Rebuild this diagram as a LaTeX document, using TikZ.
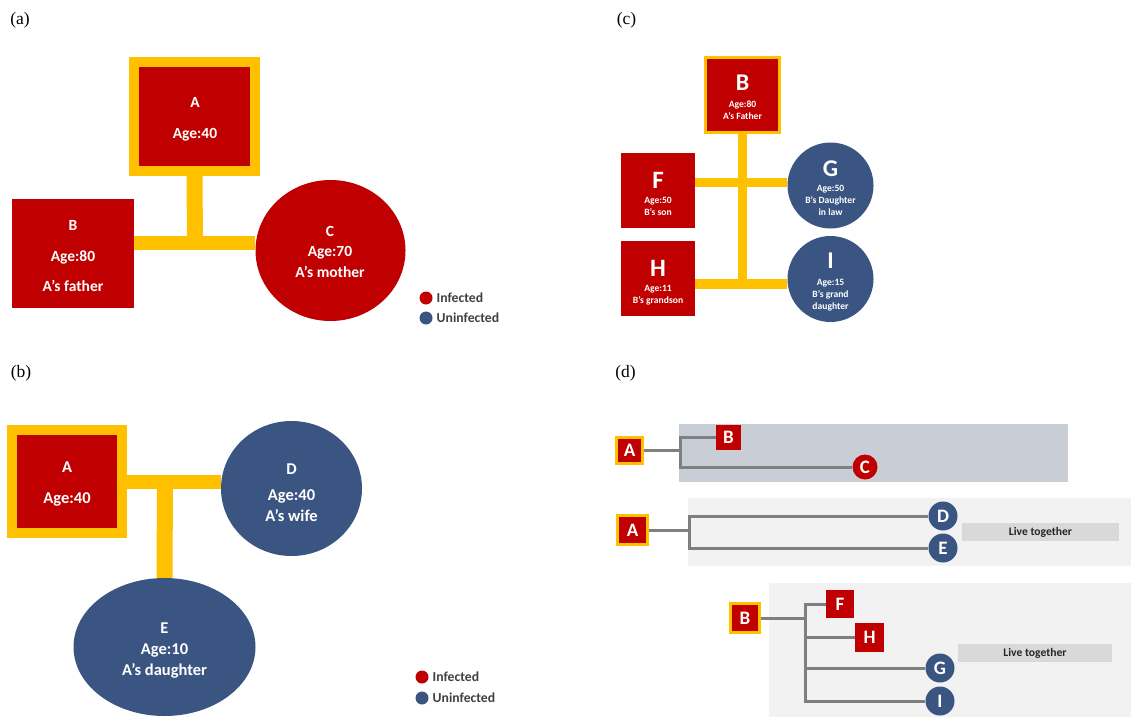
\documentclass[tikz,border=0pt]{standalone}
\usepackage{fontspec}
\setmainfont{Carlito}
\newfontfamily\tnr{Liberation Serif}
\usetikzlibrary{shapes.geometric}
\definecolor{myred}{HTML}{C00000}
\definecolor{myyel}{HTML}{FFC000}
\definecolor{myblue}{HTML}{3B5583}
\definecolor{panelgray}{HTML}{F2F2F2}
\definecolor{panelblue}{HTML}{C9CED6}
\definecolor{tagray}{HTML}{D9D9D9}
\definecolor{linegray}{HTML}{7F7F7F}
\definecolor{legtxt}{HTML}{404040}
\begin{document}
\begin{tikzpicture}[x=1pt,y=-1pt,
  redbox/.style={rectangle, fill=myred, draw=none, inner sep=0pt, text=white},
  bluell/.style={ellipse, fill=myblue, draw=none, inner sep=0pt, text=white},
  redell/.style={ellipse, fill=myred, draw=none, inner sep=0pt, text=white},
  bluecirc/.style={circle, fill=myblue, draw=none, inner sep=0pt, text=white},
  redcirc/.style={circle, fill=myred, draw=none, inner sep=0pt, text=white},
  ybar/.style={draw=myyel, line cap=butt},
  gline/.style={draw=linegray, line width=3pt},
  lblA/.style={text=white, align=center, inner sep=0pt, font=\bfseries\fontsize{15.5}{31}\selectfont},
  lblB/.style={text=white, align=center, inner sep=0pt, font=\bfseries\fontsize{16.5}{21}\selectfont},
  lblC/.style={text=white, align=center, inner sep=0pt, font=\bfseries\fontsize{9.6}{12}\selectfont},
  dletter/.style={font=\bfseries\fontsize{19}{19}\selectfont},
  plab/.style={inner sep=0pt, font=\tnr\fontsize{17.5}{17.5}\selectfont},
  legdot/.style={circle, inner sep=0pt, minimum size=13pt},
  legtext/.style={anchor=west, inner sep=0pt, text=legtxt, font=\bfseries\fontsize{13.7}{13.7}\selectfont},
  livebox/.style={rectangle, fill=tagray, inner sep=0pt, text=black!85, font=\bfseries\fontsize{11.6}{11.6}\selectfont}
]
\useasboundingbox (0,0) rectangle (1131,717);

% ---------- panel labels
\node[plab] (la) at (20,20.5) {(a)};
\node[plab] (lb) at (21,373) {(b)};
\node[plab] (lc) at (626.5,20.5) {(c)};
\node[plab] (ld) at (625.5,373) {(d)};

% ---------- (a)
\node[redbox, draw=myyel, line width=10pt, minimum width=121pt, minimum height=109pt] (Aa) at (194.5,116.5) {};
\node[redbox, minimum width=122pt, minimum height=109pt] (Ba) at (73,253.5) {};
\node[redell, minimum width=150pt, minimum height=141pt] (Ca) at (330.5,250.5) {};
\coordinate (ja) at (195,243);
\draw[ybar, line width=14pt] (Ba.east |- ja) -- (Ca.west |- ja);
\draw[ybar, line width=16pt] (Aa.south) -- (ja);
\node[lblA] (Aat) at (195,119) {A\\Age:40};
\node[lblA, font=\bfseries\fontsize{15.5}{30.5}\selectfont] (Bat) at (73,256.5) {B\\Age:80\\A’s father};
\node[lblA, font=\bfseries\fontsize{15.5}{20.5}\selectfont] (Cat) at (330,251.5) {C\\Age:70\\A’s mother};
\node[legdot, fill=myred] (lra) at (426,298) {};
\node[legtext] (lrat) at (436.5,298) {Infected};
\node[legdot, fill=myblue] (lba) at (426,318) {};
\node[legtext] (lbat) at (436.5,318) {Uninfected};

% ---------- (b)
\node[redbox, draw=myyel, line width=10pt, minimum width=110pt, minimum height=103pt] (Ab) at (67,481.5) {};
\node[bluell, minimum width=141pt, minimum height=135pt] (Db) at (291.5,488.5) {};
\node[bluell, minimum width=182pt, minimum height=138pt] (Eb) at (164.5,647) {};
\coordinate (jb) at (165,482);
\draw[ybar, line width=14pt] (Ab.east |- jb) -- (Db.west |- jb);
\draw[ybar, line width=16pt] (jb) -- (Eb.north);
\node[lblB, font=\bfseries\fontsize{16.5}{31}\selectfont] (Abt) at (67,484) {A\\Age:40};
\node[lblB] (Dbt) at (291.5,493) {D\\[5pt]Age:40\\A’s wife};
\node[lblB] (Ebt) at (164.5,651) {E\\Age:10\\A’s daughter};
\node[legdot, fill=myred] (lrb) at (422,677) {};
\node[legtext] (lrbt) at (432.5,677) {Infected};
\node[legdot, fill=myblue] (lbb) at (422,698) {};
\node[legtext] (lbbt) at (432.5,698) {Uninfected};

% ---------- (c)
\node[redbox, draw=myyel, line width=3pt, minimum width=74pt, minimum height=75pt] (Bc) at (742.5,95) {};
\node[redbox, minimum width=74pt, minimum height=75pt] (Fc) at (658,190.5) {};
\node[redbox, minimum width=74pt, minimum height=75pt] (Hc) at (658,278.5) {};
\node[bluecirc, minimum size=86pt] (Gc) at (830.5,185.5) {};
\node[bluecirc, minimum size=86pt] (Ic) at (830.5,279) {};
\coordinate (cF) at (742.5,182.5);
\coordinate (cH) at (742.5,284);
\draw[ybar, line width=9pt] (Fc.east |- cF) -- (Gc.west |- cF);
\draw[ybar, line width=10pt] (Hc.east |- cH) -- (Ic.west |- cH);
\draw[ybar, line width=9pt] (Bc.south) -- (cH);
\node[lblC] (Bct) at (742.5,97.5) {{\fontsize{24}{24}\selectfont B}\\[4.5pt]Age:80\\A’s Father};
\node[lblC] (Fct) at (658,194) {{\fontsize{25}{25}\selectfont F}\\[3.5pt]Age:50\\B’s son};
\node[lblC] (Hct) at (658,282.5) {{\fontsize{25}{25}\selectfont H}\\[3.5pt]Age:11\\B’s grandson};
\node[lblC] (Gct) at (830.5,188) {{\fontsize{24}{24}\selectfont G}\\[3.5pt]Age:50\\B’s Daughter\\in law};
\node[lblC] (Ict) at (830.5,282) {{\fontsize{24}{24}\selectfont I}\\[4.5pt]Age:15\\B’s grand\\daughter};

% ---------- (d)
\fill[panelblue] (679,424) rectangle (1068,482);
\fill[panelgray] (688,498) rectangle (1131,566);
\fill[panelgray] (769,583) rectangle (1131,717);
\node[livebox, minimum width=157pt, minimum height=18pt] (L1) at (1040.5,532) {Live together};
\node[livebox, minimum width=154pt, minimum height=18pt] (L2) at (1035,653) {Live together};

\node[redbox, dletter, draw=myyel, line width=3pt, minimum size=26pt] (A1) at (629.5,450.5) {A};
\node[redbox, dletter, minimum size=25pt] (B1) at (728.5,437.5) {B};
\node[redcirc, dletter, minimum size=25pt] (C1) at (865,467) {C};
\coordinate (j1) at (680,450.5);
\draw[gline] (A1) -- (j1);
\draw[gline] (B1) -| (j1) |- (C1);

\node[redbox, dletter, draw=myyel, line width=3pt, minimum width=30pt, minimum height=29pt] (A2) at (632.5,530) {A};
\node[bluecirc, dletter, minimum size=29pt] (D2) at (943,516) {D};
\node[bluecirc, dletter, minimum size=29pt] (E2) at (943,548) {E};
\coordinate (j2) at (689,530);
\draw[gline] (A2) -- (j2);
\draw[gline] (D2) -| (j2) |- (E2);

\node[redbox, dletter, draw=myyel, line width=3pt, minimum size=29pt] (B3) at (745,618) {B};
\node[redbox, dletter, minimum size=28pt] (F3) at (840,604) {F};
\node[redbox, dletter, minimum size=29pt] (H3) at (869.5,637.5) {H};
\node[bluecirc, dletter, minimum size=29pt] (G3) at (940,668) {G};
\node[bluecirc, dletter, minimum size=29pt] (I3) at (940,701) {I};
\coordinate (j3) at (805,618);
\draw[gline] (B3) -- (j3);
\draw[gline] (F3) -| (j3) |- (I3);
\draw[gline] (j3 |- H3) -- (H3);
\draw[gline] (j3 |- G3) -- (G3);
\end{tikzpicture}
\end{document}
